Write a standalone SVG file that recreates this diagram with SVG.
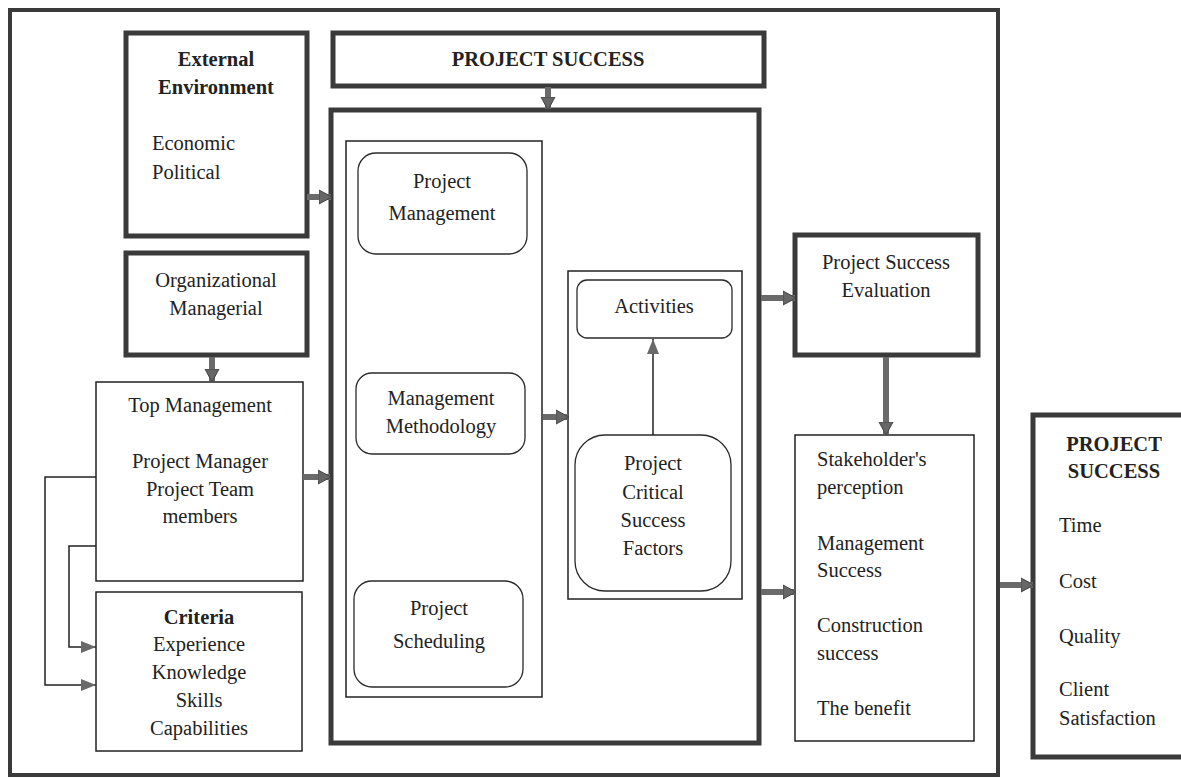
<svg xmlns="http://www.w3.org/2000/svg" width="1181" height="779" viewBox="0 0 1181 779">
<defs>
<style>
.thick{fill:#fff;stroke:#3a3a3a;stroke-width:5}
.thin{fill:#fff;stroke:#222;stroke-width:1.5}
.rnd{fill:#fff;stroke:#2a2a2a;stroke-width:1.3}
text{font-family:"Liberation Serif","Times New Roman",serif;font-size:20.5px;fill:#222}
.b{font-weight:bold}
.c{text-anchor:middle}
.arr{stroke:#6a6a6a;stroke-width:6;fill:none;marker-end:url(#ah)}
.ln{stroke:#222;stroke-width:1.5;fill:none;marker-end:url(#ah2)}
</style>
<marker id="ah" markerUnits="userSpaceOnUse" markerWidth="14" markerHeight="16" refX="12" refY="8" orient="auto">
<path d="M0,1 L13,8 L0,15 Z" fill="#666" stroke="#444" stroke-width="1"/>
</marker>
<marker id="ah2" markerUnits="userSpaceOnUse" markerWidth="16" markerHeight="14" refX="15" refY="7" orient="auto">
<path d="M0,1 L15,7 L0,13 Z" fill="#6a6a6a"/>
</marker>
</defs>
<rect width="1181" height="779" fill="#fff"/>
<rect id="frame" x="10" y="10" width="988" height="765" fill="#fff" stroke="#3a3a3a" stroke-width="4"/>

<g id="ext">
<rect class="thick" x="126" y="33" width="181" height="203"/>
<text class="b c" x="216" y="66">External</text>
<text class="b c" x="216" y="94">Environment</text>
<text x="152" y="150">Economic</text>
<text x="152" y="179">Political</text>
</g>

<g id="ps-top">
<rect class="thick" x="333" y="33" width="431" height="53"/>
<text class="b c" x="548" y="66">PROJECT SUCCESS</text>
</g>

<g id="org">
<rect class="thick" x="126" y="253" width="181" height="102"/>
<text class="c" x="216" y="287">Organizational</text>
<text class="c" x="216" y="315">Managerial</text>
</g>

<g id="topmgmt">
<rect class="thin" x="96" y="382" width="207" height="199"/>
<text class="c" x="200" y="412">Top Management</text>
<text class="c" x="200" y="468">Project Manager</text>
<text class="c" x="200" y="496">Project Team</text>
<text class="c" x="200" y="523">members</text>
</g>

<g id="criteria">
<rect class="thin" x="96" y="592" width="206" height="159"/>
<text class="b c" x="199" y="624">Criteria</text>
<text class="c" x="199" y="651">Experience</text>
<text class="c" x="199" y="679">Knowledge</text>
<text class="c" x="199" y="707">Skills</text>
<text class="c" x="199" y="735">Capabilities</text>
</g>

<g id="main">
<rect class="thick" x="331" y="110" width="428" height="633"/>
</g>

<g id="inner-left">
<rect class="thin" x="346" y="141" width="196" height="556"/>
</g>

<g id="pm">
<rect class="rnd" x="358" y="153" width="169" height="101" rx="18"/>
<text class="c" x="442" y="188">Project</text>
<text class="c" x="442" y="220">Management</text>
</g>

<g id="mm">
<rect class="rnd" x="356" y="373" width="169" height="81" rx="16"/>
<text class="c" x="441" y="405">Management</text>
<text class="c" x="441" y="433">Methodology</text>
</g>

<g id="sched">
<rect class="rnd" x="354" y="581" width="169" height="106" rx="18"/>
<text class="c" x="439" y="615">Project</text>
<text class="c" x="439" y="648">Scheduling</text>
</g>

<g id="inner-mid">
<rect class="thin" x="568" y="271" width="174" height="328"/>
</g>

<g id="activities">
<rect class="rnd" x="577" y="280" width="155" height="58" rx="10"/>
<text class="c" x="654" y="313">Activities</text>
</g>

<g id="pcsf">
<rect class="rnd" x="575" y="435" width="156" height="156" rx="30"/>
<text class="c" x="653" y="470">Project</text>
<text class="c" x="653" y="499">Critical</text>
<text class="c" x="653" y="527">Success</text>
<text class="c" x="653" y="555">Factors</text>
</g>

<g id="eval">
<rect class="thick" x="795" y="235" width="183" height="120"/>
<text class="c" x="886" y="269">Project Success</text>
<text class="c" x="886" y="297">Evaluation</text>
</g>

<g id="stake">
<rect class="thin" x="795" y="435" width="179" height="306"/>
<text x="817" y="466">Stakeholder's</text>
<text x="817" y="494">perception</text>
<text x="817" y="550">Management</text>
<text x="817" y="577">Success</text>
<text x="817" y="632">Construction</text>
<text x="817" y="660">success</text>
<text x="817" y="715">The benefit</text>
</g>

<g id="ps-final">
<rect class="thick" x="1033" y="415" width="160" height="342"/>
<text class="b c" x="1114" y="451">PROJECT</text>
<text class="b c" x="1114" y="478">SUCCESS</text>
<text x="1059" y="532">Time</text>
<text x="1059" y="588">Cost</text>
<text x="1059" y="643">Quality</text>
<text x="1059" y="696">Client</text>
<text x="1059" y="725">Satisfaction</text>
</g>

<g id="connectors">
<line class="arr" x1="307" y1="197" x2="331" y2="197"/>
<line class="arr" x1="303" y1="477" x2="330" y2="477"/>
<line class="arr" x1="548" y1="87" x2="548" y2="109"/>
<line class="arr" x1="212" y1="357" x2="212" y2="381"/>
<line class="arr" x1="543" y1="417" x2="568" y2="417"/>
<line class="arr" x1="761" y1="298" x2="795" y2="298"/>
<line class="arr" x1="761" y1="592" x2="795" y2="592"/>
<line class="arr" x1="886" y1="357" x2="886" y2="434"/>
<line class="arr" x1="1000" y1="585" x2="1033" y2="585"/>
<line class="ln" x1="653" y1="435" x2="653" y2="339"/>
<polyline class="ln" points="96,477 45,477 45,685 96,685"/>
<polyline class="ln" points="96,546 69,546 69,647 96,647"/>
</g>
</svg>
